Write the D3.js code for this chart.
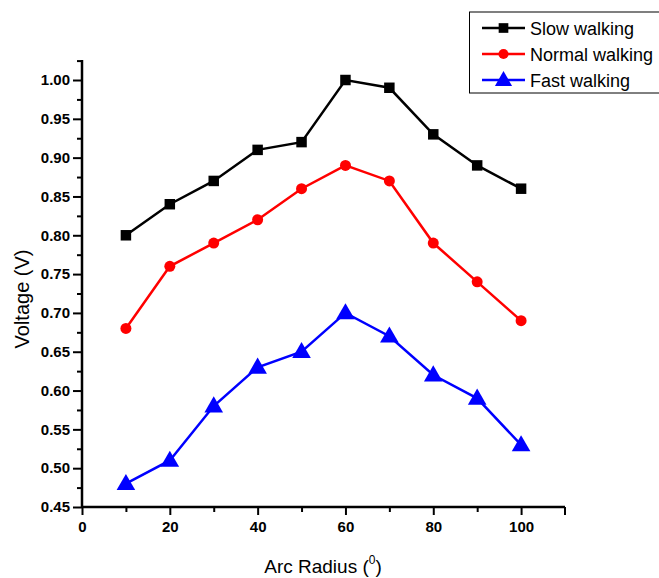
<!DOCTYPE html>
<html><head><meta charset="utf-8">
<script src="https://cdn.jsdelivr.net/npm/d3@7"></script>
<style>body{margin:0;background:#fff}svg{display:block}</style>
</head><body>
<script>
const xValues = [10,20,30,40,50,60,70,80,90,100];
const slowWalking = [0.80,0.84,0.87,0.91,0.92,1.00,0.99,0.93,0.89,0.86];
const normalWalking = [0.68,0.76,0.79,0.82,0.86,0.89,0.87,0.79,0.74,0.69];
const fastWalking = [0.48,0.51,0.58,0.63,0.65,0.70,0.67,0.62,0.59,0.53];
const seriesNames = ["Slow walking","Normal walking","Fast walking"];
const seriesColors = ["#000000","#ff0000","#0000ff"];
const seriesSymbols = [d3.symbolSquare, d3.symbolCircle, d3.symbolTriangle];
const xTicks = [0,20,40,60,80,100];
const yTicks = [0.45,0.50,0.55,0.60,0.65,0.70,0.75,0.80,0.85,0.90,0.95,1.00];

const W=659,H=578;
const svg=d3.select("body").append("svg").attr("width",W).attr("height",H);
const x=d3.scaleLinear().domain([0,110]).range([82,565]);
const y=d3.scaleLinear().domain([0.45,1.025]).range([507,60.6]);

const font="'Liberation Sans', Arial, sans-serif";

// minor ticks
const xMinor=d3.range(10,110,20);
const yMinor=d3.range(0.475,1.03,0.05);
const gx=svg.append("g").attr("transform","translate(0,507)");
gx.call(d3.axisBottom(x).tickValues(xMinor).tickSize(5).tickFormat(""));
gx.call(g=>g.selectAll(".domain").remove());
const gx2=svg.append("g").attr("transform","translate(0,507)");
gx2.call(d3.axisBottom(x).tickValues(xTicks).tickSize(8).tickSizeOuter(0).tickPadding(6).tickFormat(d3.format("d")));
[gx,gx2].forEach(g=>{g.selectAll("line").attr("stroke","#000").attr("stroke-width",2);});
gx2.select(".domain").attr("stroke","#000").attr("stroke-width",2.5).attr("d","M82,0H565");
gx2.selectAll("text").attr("font-family",font).attr("font-weight","bold").attr("font-size",15).attr("fill","#000");
gx2.append("line").attr("x1",565).attr("x2",565).attr("y1",0).attr("y2",8).attr("stroke","#000").attr("stroke-width",2);

const gy=svg.append("g").attr("transform","translate(82,0)");
gy.call(d3.axisLeft(y).tickValues(yMinor).tickSize(5).tickFormat(""));
gy.call(g=>g.selectAll(".domain").remove());
const gy2=svg.append("g").attr("transform","translate(82,0)");
gy2.call(d3.axisLeft(y).tickValues(yTicks).tickSize(9).tickSizeOuter(0).tickPadding(3).tickFormat(d3.format(".2f")));
[gy,gy2].forEach(g=>{g.selectAll("line").attr("stroke","#000").attr("stroke-width",2);});
gy2.select(".domain").attr("stroke","#000").attr("stroke-width",2.5).attr("d","M0,507.5V60");
gy2.selectAll("text").attr("font-family",font).attr("font-weight","bold").attr("font-size",15).attr("fill","#000");

// lines
const allSeries=[slowWalking,normalWalking,fastWalking];
const line=d3.line().x((d,i)=>x(xValues[i])).y(d=>y(d));
const sizes=[110,95,150];
allSeries.forEach((s,k)=>{
  svg.append("path").datum(s).attr("d",line).attr("fill","none").attr("stroke",seriesColors[k]).attr("stroke-width",2.5);
  svg.append("g").selectAll("path").data(s).join("path")
    .attr("transform",(d,i)=>`translate(${x(xValues[i])},${y(d)+(k===2?1:0)})`)
    .attr("d",d3.symbol().type(seriesSymbols[k]).size(sizes[k]))
    .attr("fill",seriesColors[k]);
});

// axis titles
svg.append("text").attr("transform","translate(29,299) rotate(-90)").attr("text-anchor","middle")
  .attr("font-family",font).attr("font-size",20).text("Voltage (V)");
const xt=svg.append("text").attr("x",323).attr("y",573).attr("text-anchor","middle")
  .attr("font-family",font).attr("font-size",19);
xt.append("tspan").text("Arc Radius (");
xt.append("tspan").attr("font-size",12).attr("dy",-9).text("0");
xt.append("tspan").attr("dy",9).text(")");

// legend
const lg=svg.append("g");
lg.append("rect").attr("x",469.5).attr("y",12).attr("width",195).attr("height",81)
  .attr("fill","#fff").attr("stroke","#000").attr("stroke-width",1);
seriesNames.forEach((n,k)=>{
  const yy=28+k*26;
  lg.append("line").attr("x1",482).attr("x2",525).attr("y1",yy).attr("y2",yy).attr("stroke",seriesColors[k]).attr("stroke-width",2.5);
  lg.append("path").attr("transform",`translate(503.5,${yy+(k===2?1:0)})`).attr("d",d3.symbol().type(seriesSymbols[k]).size(sizes[k]*0.85)).attr("fill",seriesColors[k]);
  lg.append("text").attr("x",530).attr("y",yy+7).attr("font-family",font).attr("font-size",18).text(n);
});
</script>
</body></html>
